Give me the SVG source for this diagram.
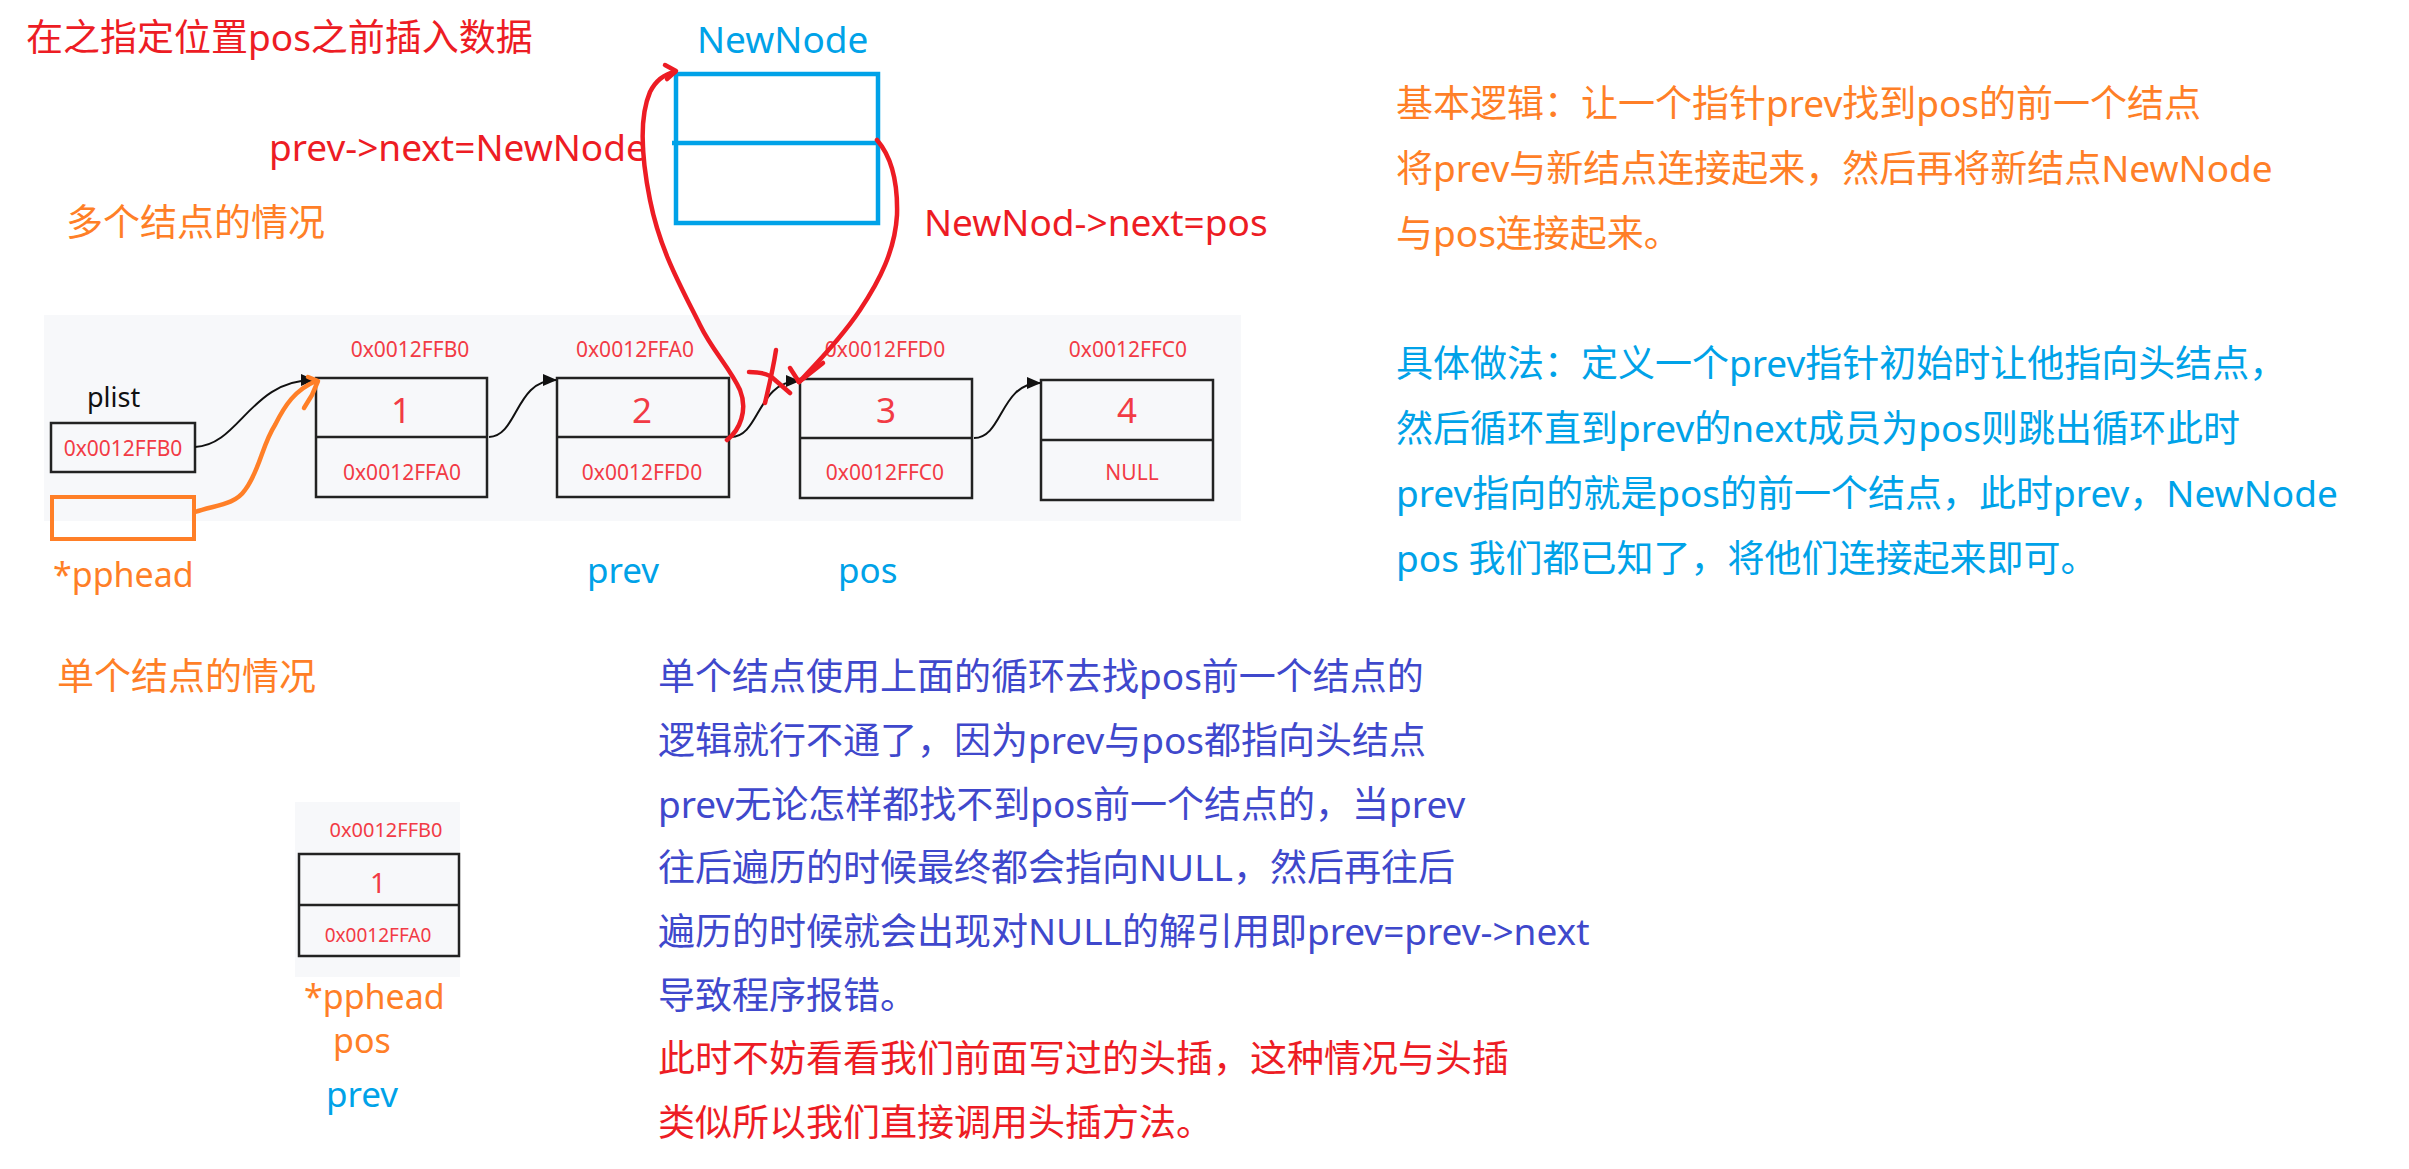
<svg xmlns="http://www.w3.org/2000/svg" width="2409" height="1169" viewBox="0 0 2409 1169">
<style>
text{font-family:"Noto Sans","Noto Sans CJK SC",sans-serif;}
.t37{font-size:37px;}
.red{fill:#ED1C24;}
.org{fill:#FF7F27;}
.blu{fill:#00A2E8;}
.ind{fill:#3F48CC;}
.nt{fill:#F23B45;font-size:21px;text-anchor:middle;}
.dg{fill:#F23B45;font-size:35px;text-anchor:middle;}
.box{fill:none;stroke:#222;stroke-width:2.5;}
.blk{fill:none;stroke:#111;stroke-width:2;}
.hand{fill:none;stroke-width:4.5;stroke-linecap:round;stroke-linejoin:round;}
</style>
<defs>
<marker id="ah" markerUnits="userSpaceOnUse" markerWidth="14" markerHeight="12" refX="13" refY="6" orient="auto">
<path d="M0,0 L14,6 L0,12 Z" fill="#111"/>
</marker>
</defs>
<rect width="2409" height="1169" fill="#fff"/>
<rect x="44" y="315" width="1197" height="206" fill="#F7F8FA"/>
<rect x="295" y="802" width="165" height="175" fill="#F7F8FA"/>

<text class="t37 red" x="26" y="51">在之指定位置pos之前插入数据</text>
<text class="t37 red" x="269" y="161">prev-&gt;next=NewNode</text>
<text class="t37 org" x="66" y="236">多个结点的情况</text>
<text class="t37 red" x="924" y="236">NewNod-&gt;next=pos</text>

<g id="newnode">
<text class="t37 blu" x="697" y="53">NewNode</text>
<rect x="676" y="74" width="202" height="149" fill="none" stroke="#00A2E8" stroke-width="4.5"/>
<line x1="672" y1="143" x2="878" y2="143" stroke="#00A2E8" stroke-width="4.5"/>
</g>

<g id="plist">
<text x="87" y="407" font-size="27" fill="#111">plist</text>
<rect class="box" x="51" y="423" width="144" height="49"/>
<text class="nt" x="123" y="456">0x0012FFB0</text>
</g>

<g id="pphead">
<rect x="52" y="497" width="142" height="42" fill="none" stroke="#FF7F27" stroke-width="4"/>
<text class="org" x="53" y="587" font-size="34">*pphead</text>
</g>

<g id="node1">
<text class="nt" x="410" y="357">0x0012FFB0</text>
<rect class="box" x="316" y="378" width="171" height="119"/>
<line class="box" x1="316" y1="437" x2="487" y2="437"/>
<text class="dg" x="401" y="423">1</text>
<text class="nt" x="402" y="480">0x0012FFA0</text>
</g>
<g id="node2">
<text class="nt" x="635" y="357">0x0012FFA0</text>
<rect class="box" x="557" y="378" width="172" height="119"/>
<line class="box" x1="557" y1="437" x2="729" y2="437"/>
<text class="dg" x="642" y="423">2</text>
<text class="nt" x="642" y="480">0x0012FFD0</text>
</g>
<g id="node3">
<text class="nt" x="885" y="357">0x0012FFD0</text>
<rect class="box" x="800" y="379" width="172" height="119"/>
<line class="box" x1="800" y1="438" x2="972" y2="438"/>
<text class="dg" x="886" y="423">3</text>
<text class="nt" x="885" y="480">0x0012FFC0</text>
</g>
<g id="node4">
<text class="nt" x="1128" y="357">0x0012FFC0</text>
<rect class="box" x="1041" y="380" width="172" height="120"/>
<line class="box" x1="1041" y1="440" x2="1213" y2="440"/>
<text class="dg" x="1127" y="423">4</text>
<text class="nt" x="1132" y="480">NULL</text>
</g>

<text class="blu" x="587" y="583" font-size="35">prev</text>
<text class="blu" x="838" y="583" font-size="35">pos</text>

<g id="connectors">
<path class="blk" d="M195,447 C240,445 250,380 314,380" marker-end="url(#ah)"/>
<path class="blk" d="M489,437 C518,436 515,380 556,380" marker-end="url(#ah)"/>
<path class="blk" d="M731,437 C760,437 757,381 799,381" marker-end="url(#ah)"/>
<path class="blk" d="M974,438 C1003,438 1000,383 1040,383" marker-end="url(#ah)"/>
<path class="hand" stroke="#FF7F27" d="M195,512 C215,505 235,505 245,490 C260,470 262,445 275,425 C285,405 295,390 316,381"/>
<path class="hand" stroke="#FF7F27" d="M308,377 L318,381 L312,395 L304,408"/>
<path class="hand" stroke="#ED1C24" d="M727,440 C740,430 748,410 740,390 C730,368 712,350 700,325 C680,285 660,250 650,200 C642,160 638,120 650,92 C656,80 665,74 675,72"/>
<path class="hand" stroke="#ED1C24" d="M665,65 L676,71 L667,79"/>
<path class="hand" stroke="#ED1C24" d="M877,140 C890,155 898,180 897,215 C895,250 880,280 860,310 C840,340 815,365 799,382"/>
<path class="hand" stroke="#ED1C24" d="M790,368 L799,382 L823,363"/>
<path class="hand" stroke="#ED1C24" d="M776,350 C773,370 768,390 765,403"/>
<path class="hand" stroke="#ED1C24" d="M749,372 C760,372 770,374 775,380 L790,393"/>
</g>

<g id="explain">
<text class="t37 org" x="1396" y="117">基本逻辑：让一个指针prev找到pos的前一个结点</text>
<text class="t37 org" x="1396" y="182">将prev与新结点连接起来，然后再将新结点NewNode</text>
<text class="t37 org" x="1396" y="247">与pos连接起来。</text>
<text class="t37 blu" x="1396" y="377">具体做法：定义一个prev指针初始时让他指向头结点，</text>
<text class="t37 blu" x="1396" y="442">然后循环直到prev的next成员为pos则跳出循环此时</text>
<text class="t37 blu" x="1396" y="507">prev指向的就是pos的前一个结点，此时prev，NewNode</text>
<text class="t37 blu" x="1396" y="572">pos 我们都已知了，将他们连接起来即可。</text>
</g>

<text class="t37 org" x="57" y="690">单个结点的情况</text>

<g id="single">
<text class="nt" x="386" y="837" font-size="20" style="font-size:20px">0x0012FFB0</text>
<rect class="box" x="299" y="854" width="160" height="102"/>
<line class="box" x1="299" y1="905" x2="459" y2="905"/>
<text class="dg" x="378" y="893" style="font-size:28px">1</text>
<text class="nt" x="378" y="942" style="font-size:19px">0x0012FFA0</text>
<text class="org" x="304" y="1009" font-size="34">*pphead</text>
<text class="org" x="333" y="1053" font-size="34">pos</text>
<text class="blu" x="326" y="1107" font-size="35">prev</text>
</g>

<g id="single-text">
<text class="t37 ind" x="658" y="690">单个结点使用上面的循环去找pos前一个结点的</text>
<text class="t37 ind" x="658" y="754">逻辑就行不通了，因为prev与pos都指向头结点</text>
<text class="t37 ind" x="658" y="818">prev无论怎样都找不到pos前一个结点的，当prev</text>
<text class="t37 ind" x="658" y="881">往后遍历的时候最终都会指向NULL，然后再往后</text>
<text class="t37 ind" x="658" y="945">遍历的时候就会出现对NULL的解引用即prev=prev-&gt;next</text>
<text class="t37 ind" x="658" y="1009">导致程序报错。</text>
<text class="t37 red" x="658" y="1072">此时不妨看看我们前面写过的头插，这种情况与头插</text>
<text class="t37 red" x="658" y="1136">类似所以我们直接调用头插方法。</text>
</g>
</svg>
